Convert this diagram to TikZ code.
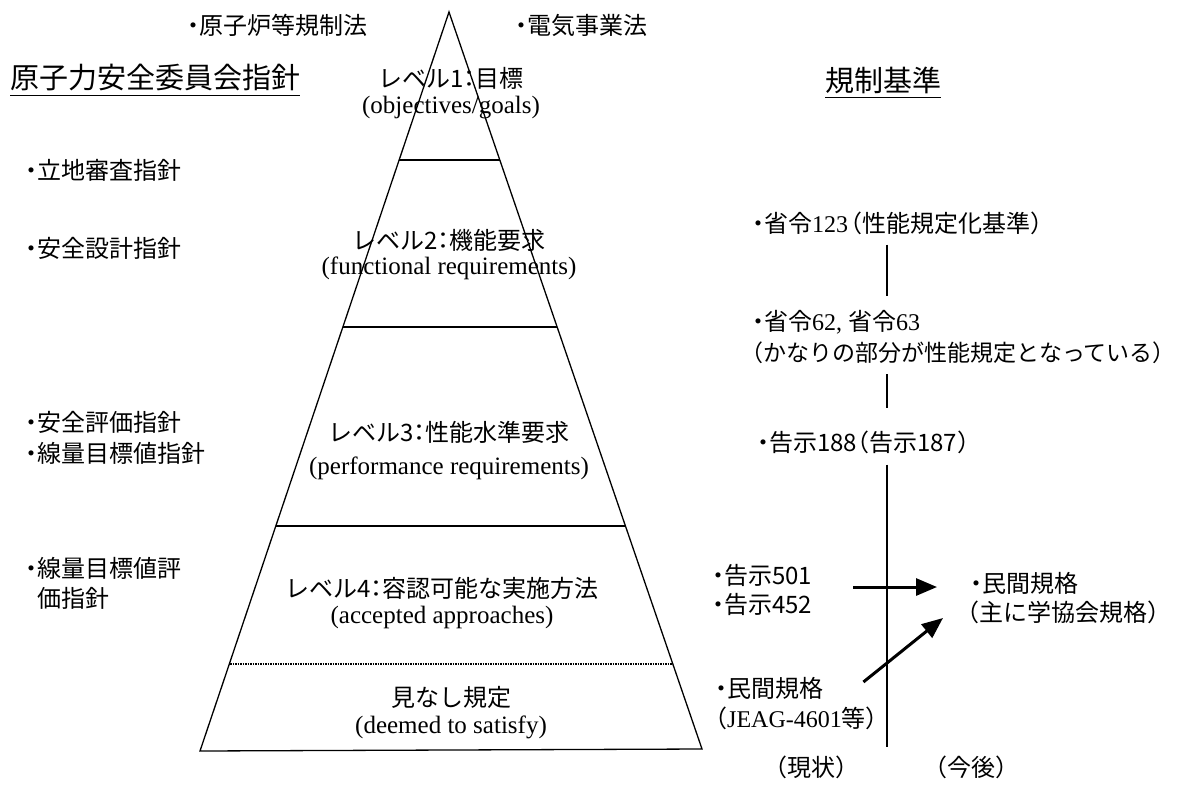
\documentclass[tikz,border=0pt]{standalone}
\usepackage{fontspec}
\setmainfont{Liberation Serif}
\newfontfamily\jp[RawFeature=+halt]{Noto Sans CJK JP}
\usetikzlibrary{arrows.meta}

\tikzset{
  jtext/.style={inner sep=0pt, font=\jp\fontsize{24}{28}\selectfont},
  etext/.style={inner sep=0pt, font=\rmfamily\fontsize{25}{28}\selectfont},
  htext/.style={inner sep=0pt, font=\jp\fontsize{29}{32}\selectfont},
  level/.style={line width=1.3pt},
  conn/.style={line width=1.5pt},
  arr/.style={line width=3pt, -{Triangle[length=21pt,width=17pt]}}
}
\newcommand{\serifnum}[1]{{\rmfamily #1}}

\begin{document}
\begin{tikzpicture}[x=1pt, y=-1pt]
\useasboundingbox (0,0) rectangle (1188,784);

% pyramid
\coordinate (apex) at (449,12);
\coordinate (bl) at (200,751);
\coordinate (br) at (702,749);
\draw[level] (apex) -- (bl) -- (br) -- cycle;
\begin{scope}
  \clip (apex) -- (bl) -- (br) -- cycle;
  \foreach \y in {160,327,526}
    \draw[level] (150,\y) -- (750,\y);
  \draw[level, dash pattern=on 1.5pt off 1pt] (150,664) -- (750,664);
\end{scope}

% levels
\node[jtext] (l1) at (451,78) {レベル1：目標};
\node[etext] (l1e) at (451,108) {(objectives/goals)};
\node[jtext] (l2) at (449,240) {レベル2：機能要求};
\node[etext] (l2e) at (449,268) {(functional requirements)};
\node[jtext] (l3) at (449,432) {レベル3：性能水準要求};
\node[etext] (l3e) at (449,468) {(performance requirements)};
\node[jtext] (l4) at (442,588) {レベル4：容認可能な実施方法};
\node[etext] (l4e) at (442,617) {(accepted approaches)};
\node[jtext] (l5) at (451,697) {見なし規定};
\node[etext] (l5e) at (451,727) {(deemed to satisfy)};

% laws
\node[jtext, anchor=west] (law1) at (187,25) {・原子炉等規制法};
\node[jtext, anchor=west] (law2) at (515,25) {・電気事業法};

% left column
\node[htext, anchor=west] (nsc) at (10,78) {原子力安全委員会指針};
\draw[conn] ([yshift=-4pt]nsc.south west) -- ([yshift=-4pt]nsc.south east);
\node[jtext, anchor=west] (g1) at (25,170) {・立地審査指針};
\node[jtext, anchor=west] (g2) at (25,248) {・安全設計指針};
\node[jtext, anchor=west] (g3) at (25,422) {・安全評価指針};
\node[jtext, anchor=west] (g4) at (25,453) {・線量目標値指針};
\node[jtext, anchor=west] (g5) at (25,568) {・線量目標値評};
\node[jtext, anchor=west] (g5b) at (37,598) {価指針};

% right column
\node[htext, anchor=west] (std) at (825,80) {規制基準};
\draw[conn] ([yshift=-4pt]std.south west) -- ([yshift=-4pt]std.south east);
\node[jtext, anchor=west] (r123) at (752,223) {・省令\serifnum{123}\kern2pt（性能規定化基準）};
\node[jtext, anchor=west] (r62) at (752,322) {・省令\serifnum{62, }省令\serifnum{63}};
\node[jtext, anchor=west, font=\jp\fontsize{23}{28}\selectfont] (r62b) at (752,353) {（かなりの部分が性能規定となっている）};
\node[jtext, anchor=west] (r188) at (757,442) {・告示188（告示187）};
\coordinate (tl) at (887,747);
\draw[conn, shorten <=10pt, shorten >=14pt] (r123.south -| tl) -- (r62.north -| tl);
\draw[conn, shorten <=10pt, shorten >=22pt] (r62b.south -| tl) -- (r188.north -| tl);
\draw[conn, shorten <=11pt] (r188.south -| tl) -- (tl);

\node[jtext, anchor=west] (k501) at (712,575) {・告示501};
\node[jtext, anchor=west] (k452) at (712,604) {・告示452};
\node[jtext, anchor=west] (mk0) at (715,688) {・民間規格};
\node[jtext, anchor=west] (mk0b) at (715,718) {（\serifnum{JEAG-4601}等）};
\node[jtext, anchor=west] (mk1) at (970,583) {・民間規格};
\node[jtext, anchor=west] (mk1b) at (967,612) {（主に学協会規格）};
\node[jtext, anchor=west] (now) at (775,767) {（現状）};
\node[jtext, anchor=west] (fut) at (935,767) {（今後）};

% arrows
\draw[arr] ([xshift=41pt, yshift=-12pt]k501.east) -- ([xshift=-33pt, yshift=-4pt]mk1.west);
\draw[arr] ([xshift=40pt, yshift=6pt]mk0.east) -- ([xshift=-24pt, yshift=-6pt]mk1b.west);
\end{tikzpicture}
\end{document}
